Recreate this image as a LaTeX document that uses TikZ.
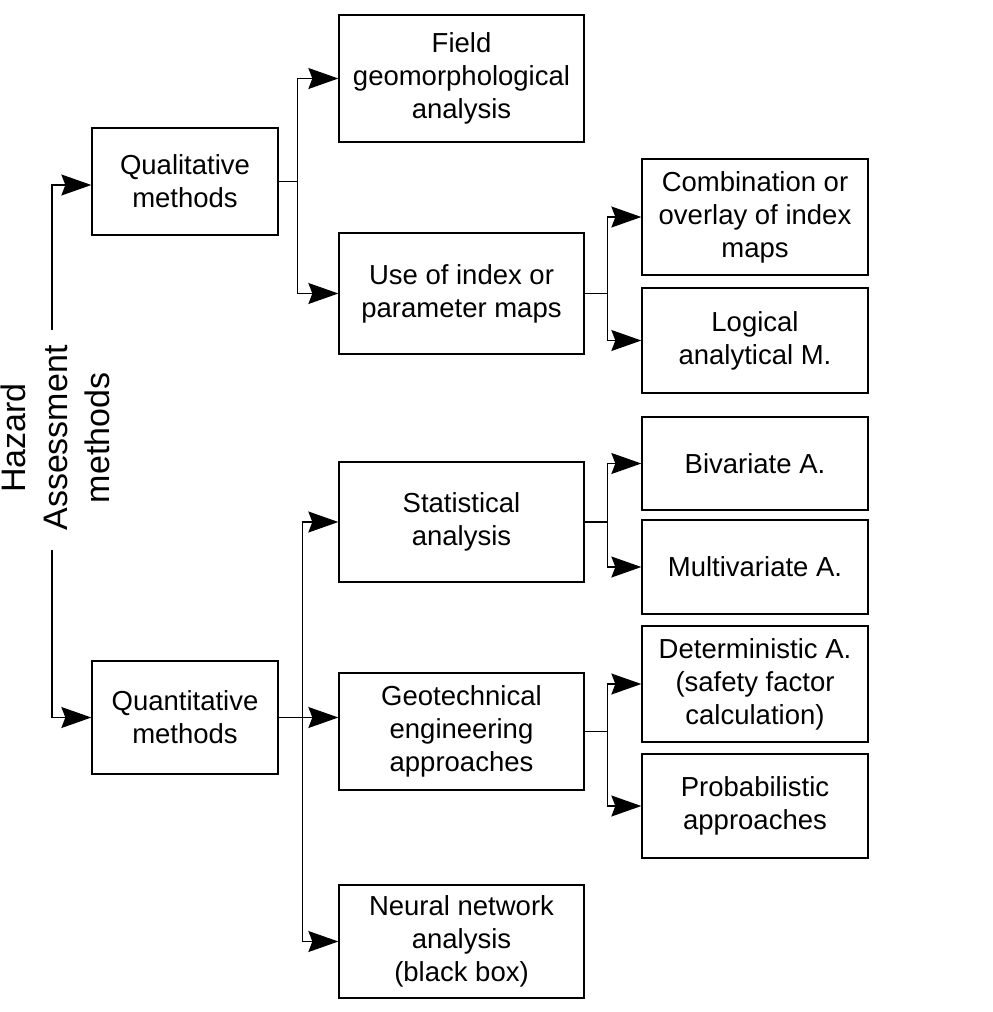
\documentclass[tikz,border=0pt]{standalone}
\usepackage{fontspec}
\setmainfont{Liberation Sans}
\usetikzlibrary{arrows.meta}
\begin{document}
\begin{tikzpicture}[x=1pt,y=-1pt,
 box/.style={draw,line width=1.3pt,inner sep=0pt,align=center,font=\fontsize{27.5}{33}\selectfont},
 arr/.style={line width=1.3pt,-{Stealth[length=30pt,width=21pt,inset=4pt]}},
 ln/.style={line width=1.3pt}]
\useasboundingbox (0,0) rectangle (993,1012);
\node[box,minimum width=186pt,minimum height=107pt] (qual) at (185,181.5) {Qualitative\\methods};
\node[box,minimum width=186pt,minimum height=113pt] (quant) at (185,717.5) {Quantitative\\methods};
\node[box,minimum width=245pt,minimum height=127pt] (field) at (461.5,78.5) {Field\\geomorphological\\analysis};
\node[box,minimum width=245pt,minimum height=121pt] (use) at (461.5,293.5) {Use of index or\\parameter maps};
\node[box,minimum width=226pt,minimum height=116pt] (comb) at (755,217) {Combination or\\overlay of index\\maps};
\node[box,minimum width=226pt,minimum height=105pt] (logic) at (755,340.5) {Logical\\analytical M.};
\node[box,minimum width=245pt,minimum height=120pt] (stat) at (461.5,522) {Statistical\\analysis};
\node[box,minimum width=226pt,minimum height=93pt] (biv) at (755,463.5) {Bivariate A.};
\node[box,minimum width=226pt,minimum height=94pt] (multi) at (755,567) {Multivariate A.};
\node[box,minimum width=245pt,minimum height=117pt] (geo) at (461.5,731.5) {Geotechnical\\engineering\\approaches};
\node[box,minimum width=226pt,minimum height=116pt] (det) at (755,684) {Deterministic A.\\(safety factor\\calculation)};
\node[box,minimum width=226pt,minimum height=104pt] (prob) at (755,806) {Probabilistic\\approaches};
\node[box,minimum width=245pt,minimum height=113pt] (neural) at (461.5,941.5) {Neural network\\analysis\\(black box)};
\node[rotate=90,align=center,inner sep=0pt,font=\fontsize{34}{42}\selectfont] (hz) at (55,438) {Hazard\\Assessment\\methods};
\coordinate (ht) at (52,330);
\coordinate (hb) at (52,550);
\draw[arr] (ht) |- ([yshift=-3.5pt]qual.west);
\draw[arr] (hb) |- (quant.west);
\draw[arr] (qual.east) -- ++(19,0) |- (field.west);
\draw[arr] (qual.east) -- ++(19,0) |- (use.west);
\draw[arr] (use.east) -- ++(23,0) |- (comb.west);
\draw[arr] (use.east) -- ++(23,0) |- (logic.west);
\draw[arr] (stat.east) -- ++(23,0) |- (biv.west);
\draw[arr] (stat.east) -- ++(23,0) |- (multi.west);
\draw[arr] (geo.east) -- ++(23,0) |- (det.west);
\draw[arr] (geo.east) -- ++(23,0) |- (prob.west);
\draw[arr] (quant.east) -- (quant.east -| geo.west);
\draw[arr] (quant.east) -- ++(24,0) |- (stat.west);
\draw[arr] (quant.east) -- ++(24,0) |- (neural.west);
\end{tikzpicture}
\end{document}
